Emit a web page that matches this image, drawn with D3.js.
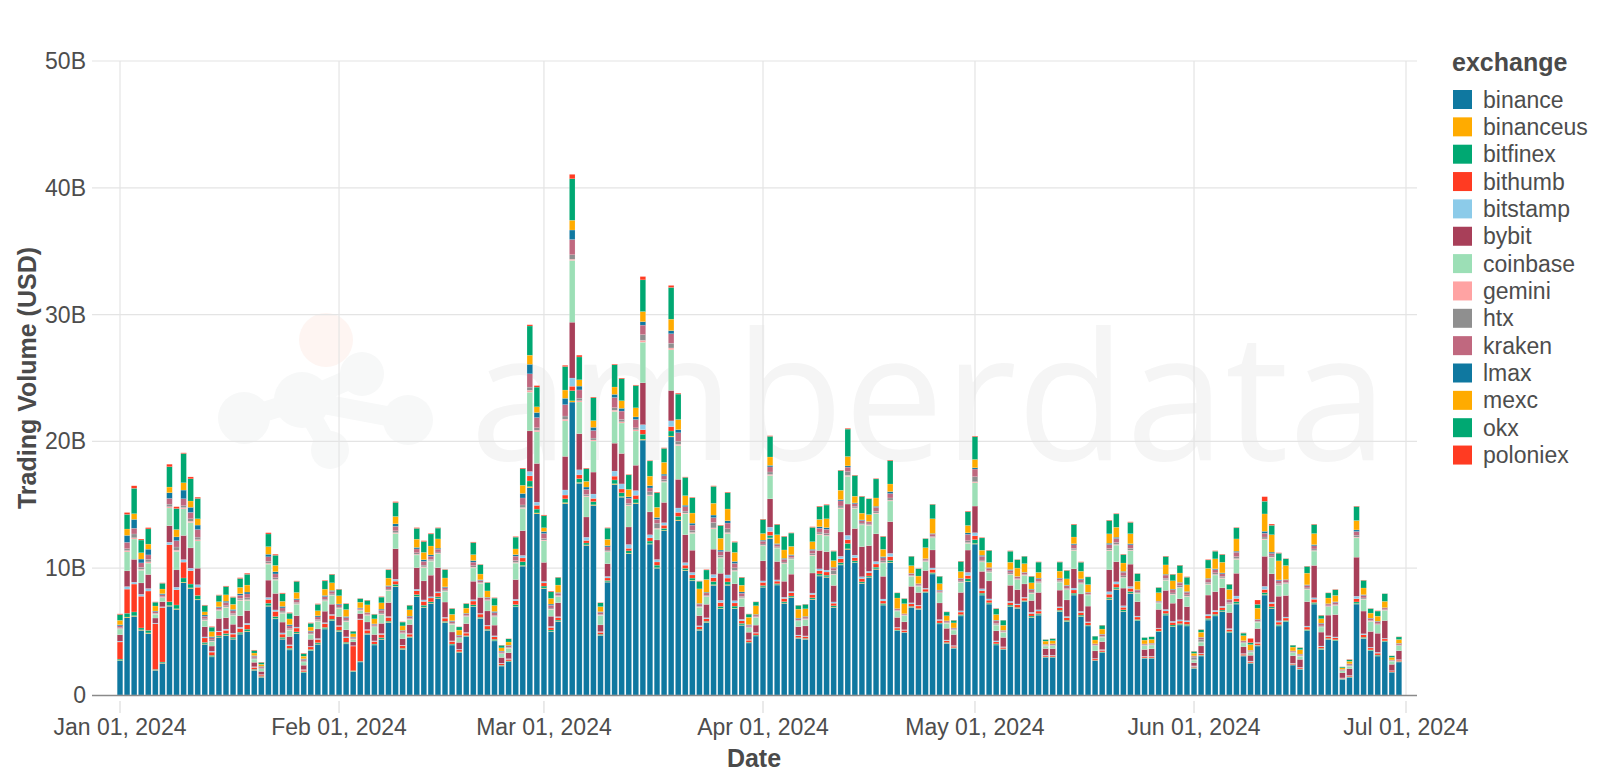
<!DOCTYPE html>
<html>
<head>
<meta charset="utf-8">
<script src="https://cdn.jsdelivr.net/npm/d3@7"></script>
<style>
  html, body { margin: 0; padding: 0; background: #fff; }
  svg { display: block; font-family: "Liberation Sans", Arial, Helvetica, sans-serif; }
</style>
</head>
<body>
<svg id="chart" width="1600" height="781"></svg>
<script>
// ---------- DATA (billions USD, daily Jan 1 – Jun 30, 2024) ----------
const exchanges = ["binance","binanceus","bitfinex","bithumb","bitstamp","bybit","coinbase","gemini","htx","kraken","lmax","mexc","okx","poloniex"];
const exchangeColors = ["#0f78a0","#ffab00","#00a872","#ff3b22","#8ccbe9","#a83f59","#9cdfb6","#ffa3a3","#8f8f8f","#c0687f","#0f78a0","#ffab00","#00a872","#ff3b22"];
const yTicks = [0, 10, 20, 30, 40, 50];
const yTickLabels = ["0", "10B", "20B", "30B", "40B", "50B"];
const startDate = new Date(2024, 0, 1);
const endDate = new Date(2024, 6, 1);

const binance = [2.7,6.1,6.2,5.1,4.85,1.95,2.5,7.0,6.75,8.85,
8.4,7.5,4.0,3.0,4.55,4.7,4.4,4.8,5.0,1.95,
1.4,7.0,6.0,4.4,3.55,4.85,1.75,3.5,4.0,5.2,
5.85,5.0,4.03,1.85,2.6,4.78,3.94,4.39,5.7,8.54,
3.6,4.52,7.76,6.91,7.22,7.62,5.7,3.94,3.34,4.6,
6.96,6.04,5.1,4.26,2.28,2.62,6.95,10.16,16.35,14.3,
8.4,5.0,5.8,15.1,23.1,16.7,11.8,14.95,4.7,8.9,
16.6,15.6,11.15,15.1,20.1,11.9,10.0,12.95,20.35,13.75,
9.8,9.0,5.1,5.7,8.65,6.8,8.65,6.8,5.5,4.1,
4.65,8.5,12.35,8.67,7.23,7.7,4.46,4.39,7.54,9.38,
9.28,6.91,10.25,11.48,10.43,8.8,9.28,9.91,7.09,10.43,
5.07,4.91,6.91,6.75,8.07,9.54,5.6,4.07,3.68,6.23,
8.93,11.9,7.88,7.17,3.94,3.6,6.96,6.83,7.36,6.12,
6.3,2.97,2.97,6.57,5.78,7.88,6.17,5.44,2.7,3.33,
7.54,8.33,6.57,8.01,5.86,2.89,2.89,4.99,6.3,5.39,
5.52,5.44,2.1,3.07,5.91,6.23,6.57,4.91,7.17,3.07,
2.49,3.86,7.88,6.83,5.44,5.78,2.36,2.02,5.07,7.17,
3.6,4.39,4.28,1.23,1.39,7.17,4.46,3.49,3.07,4.2,
1.8,2.6];

const binanceus = [.03,.05,.05,.04,.05,.02,.03,.05,.05,.05,
.05,.05,.03,.03,.03,.03,.03,.03,.04,.02,
.02,.04,.04,.03,.03,.03,.02,.02,.03,.03,
.03,.03,.03,.02,.02,.02,.02,.03,.03,.04,
.02,.02,.03,.03,.03,.03,.03,.02,.02,.02,
.03,.02,.02,.03,.02,.02,.03,.05,.08,.06,
.04,.03,.03,.07,.1,.06,.04,.05,.02,.03,
.06,.05,.04,.05,.07,.04,.04,.04,.07,.05,
.04,.04,.02,.03,.05,.04,.05,.04,.03,.02,
.02,.03,.04,.03,.03,.03,.02,.02,.03,.04,
.04,.03,.04,.05,.03,.03,.03,.04,.03,.04,
.02,.01,.02,.02,.02,.03,.02,.02,.01,.03,
.04,.05,.03,.03,.02,.01,.03,.02,.02,.03,
.03,.01,.01,.03,.03,.03,.03,.02,.01,.02,
.04,.04,.03,.03,.02,.01,.01,.01,.03,.03,
.03,.03,.02,.02,.03,.03,.03,.02,.04,.01,
.01,.02,.04,.03,.03,.02,.01,.01,.02,.03,
.02,.02,.02,.01,.01,.04,.02,.02,.02,.02,
.01,.01];

const bitfinex = [.1,.3,.3,.15,.2,.05,.07,.3,.3,.33,
.3,.3,.12,.1,.1,.12,.12,.12,.15,.06,
.05,.2,.15,.12,.1,.1,.06,.07,.1,.1,
.1,.08,.1,.04,.04,.06,.06,.1,.09,.15,
.06,.06,.13,.14,.1,.1,.08,.06,.05,.06,
.12,.07,.07,.1,.05,.05,.15,.3,.45,.3,
.15,.1,.08,.3,.8,.3,.15,.25,.07,.1,
.3,.3,.18,.3,.4,.2,.2,.15,.4,.3,
.15,.18,.07,.08,.25,.15,.22,.17,.12,.05,
.06,.1,.2,.08,.1,.08,.05,.05,.1,.13,
.13,.1,.15,.42,.12,.1,.08,.13,.1,.15,
.04,.03,.06,.05,.06,.08,.06,.05,.04,.08,
.2,.3,.12,.08,.08,.03,.1,.06,.06,.08,
.09,.03,.03,.08,.08,.12,.1,.05,.03,.05,
.12,.13,.12,.12,.07,.03,.03,.04,.1,.1,
.08,.1,.05,.05,.1,.1,.1,.08,.15,.04,
.04,.05,.15,.1,.08,.07,.03,.03,.07,.1,
.06,.05,.06,.03,.04,.13,.07,.05,.06,.05,
.02,.04];

const bithumb = [1.35,1.9,2.2,2.5,3.1,3.6,4.3,4.5,1.2,1.25,
1.05,.65,.35,.25,.3,.25,.25,.3,.35,.15,
.1,.3,.4,.25,.2,.3,.12,.2,.25,.3,
.3,.3,.35,1.95,3.3,.25,.2,.25,.3,.25,
.2,.2,.3,.3,.3,.3,.25,.2,.15,.2,
.3,.25,.25,.2,.12,.12,.3,.3,.4,.3,
.25,.2,.2,.3,.35,.3,.2,.25,.15,.2,
.3,.3,.2,.3,.35,.25,.25,.25,.35,.3,
.25,.25,.2,.2,.3,.3,.3,.25,.2,.15,
.15,.25,.3,.2,.25,.25,.15,.15,.25,.25,
.25,.2,.3,.3,.25,.25,.25,.25,.2,.3,
.15,.15,.2,.2,.2,.25,.2,.15,.12,.2,
.25,.3,.2,.2,.15,.12,.2,.2,.2,.2,
.2,.08,.08,.2,.2,.25,.2,.2,.1,.12,
.25,.25,.2,.25,.2,.1,.1,.2,.2,.2,
.2,.2,.08,.1,.2,.2,.2,.15,.25,.1,
.1,.15,.25,.25,.2,.2,.08,.08,.2,.25,
.12,.15,.15,.05,.06,.25,.2,.15,.15,.15,
.07,.1];

const bitstamp = [.07,.2,.15,.15,.2,.05,.06,.2,.2,.2,
.2,.2,.08,.08,.06,.1,.08,.1,.12,.05,
.04,.15,.12,.1,.08,.08,.05,.05,.08,.08,
.08,.07,.08,.03,.04,.05,.05,.08,.07,.15,
.05,.05,.12,.12,.1,.09,.07,.05,.04,.05,
.11,.06,.06,.08,.04,.05,.12,.2,.35,.25,
.12,.08,.07,.4,.65,.4,.25,.35,.06,.12,
.4,.4,.3,.37,.4,.25,.2,.2,.45,.35,
.2,.2,.07,.08,.25,.18,.25,.18,.12,.05,
.05,.12,.35,.1,.1,.1,.05,.05,.12,.15,
.15,.1,.2,.34,.2,.15,.12,.2,.15,.25,
.05,.04,.08,.06,.07,.12,.07,.05,.05,.1,
.25,.25,.15,.1,.08,.04,.1,.07,.07,.1,
.1,.04,.04,.08,.1,.15,.1,.06,.04,.06,
.2,.18,.12,.15,.08,.03,.03,.04,.12,.1,
.1,.1,.05,.05,.12,.12,.1,.08,.2,.05,
.04,.06,.25,.12,.1,.08,.03,.04,.08,.12,
.06,.06,.07,.03,.04,.2,.08,.06,.07,.05,
.02,.04];

const bybit = [.5,1.24,1.8,.9,1.1,.4,.4,1.3,1.37,1.9,
1.6,1.3,.8,.4,1.0,.9,.7,.9,1.0,.35,
.25,1.37,1.3,.85,.65,.9,.35,.55,.75,.9,
.8,.7,.55,.3,.42,.6,.5,.8,1.1,2.4,
.5,.7,1.7,1.5,1.7,1.9,1.2,.7,.55,.7,
1.45,1.26,1.13,.84,.45,.47,1.55,1.95,3.2,3.05,
1.5,.8,1.1,2.65,4.4,2.85,1.6,1.73,.53,1.0,
2.2,2.4,1.38,2.0,3.3,1.8,1.54,1.6,2.4,2.26,
2.2,1.75,.8,1.06,2.0,2.13,1.86,1.33,1.0,.58,
.58,1.58,2.23,1.45,1.26,1.37,.66,.79,1.58,1.45,
1.45,1.3,1.92,2.47,2.1,2.37,2.02,2.18,1.79,2.5,
.79,.63,1.3,1.0,1.4,1.42,1.31,.92,.87,1.45,
1.76,2.1,1.37,1.42,.79,.74,1.26,1.13,1.05,.92,
1.37,.53,.53,1.31,1.31,1.52,1.37,1.24,.6,.63,
1.73,1.58,1.39,1.76,1.13,.53,.58,1.47,1.5,1.42,
1.66,1.1,.25,.58,1.52,1.47,1.45,1.26,1.79,.53,
.45,1.1,2.37,2.23,1.94,1.7,.58,.63,1.92,2.55,
1.1,1.63,1.76,.4,.53,3.08,1.79,1.24,1.5,1.4,
.5,.7];

const coinbase = [.45,1.5,1.6,1.0,.9,.3,.3,1.4,1.45,2.1,
2.0,2.15,.5,.35,.6,.8,.7,1.2,.8,.25,
.2,1.26,1.05,.7,.5,.9,.25,.4,.6,.8,
.7,.65,.65,.2,.25,.5,.6,.7,.95,1.2,
.4,.4,1.0,1.05,1.1,1.1,.85,.6,.35,.55,
1.05,1.1,.8,.65,.3,.35,1.3,1.75,3.05,2.5,
1.7,.53,.48,2.8,4.87,2.5,1.6,2.45,.75,.93,
2.5,2.4,1.68,2.7,3.2,1.28,.85,1.6,3.2,2.66,
1.65,1.33,.66,.6,1.6,1.2,1.4,1.0,.66,.35,
.6,1.18,1.84,1.05,1.37,1.18,.45,.5,1.37,1.24,
1.24,.84,1.84,2.18,1.58,1.71,1.6,1.58,1.05,1.63,
.5,.5,.79,.5,.7,.95,.79,.4,.35,.79,
.53,1.84,.74,.68,.45,.4,.84,.79,.66,.55,
.74,.2,.22,.63,.79,1.45,.79,.87,.4,.35,
1.5,1.31,.8,1.05,.66,.3,.3,.5,.79,.66,
.87,.79,.2,.3,.84,1.31,.74,.66,1.1,.3,
.25,.5,1.31,1.26,.87,.92,.25,.25,.97,1.13,
.4,.66,.71,.15,.2,1.52,.92,.79,.66,.8,
.25,.4];

const gemini = [.05,.1,.1,.08,.1,.03,.04,.1,.1,.1,
.1,.1,.05,.04,.04,.05,.05,.05,.06,.03,
.02,.08,.06,.05,.04,.05,.03,.03,.05,.05,
.04,.04,.04,.02,.02,.03,.03,.04,.04,.07,
.03,.03,.06,.06,.05,.05,.04,.03,.02,.03,
.06,.03,.03,.04,.02,.03,.06,.08,.15,.12,
.06,.04,.04,.13,.1,.1,.06,.08,.03,.05,
.1,.1,.06,.1,.15,.06,.07,.06,.15,.1,
.06,.07,.03,.04,.08,.06,.08,.06,.05,.03,
.03,.05,.08,.04,.05,.04,.02,.03,.05,.06,
.06,.05,.06,.08,.05,.05,.04,.06,.05,.06,
.02,.02,.03,.02,.03,.04,.03,.02,.02,.04,
.06,.08,.05,.04,.04,.02,.04,.03,.03,.04,
.04,.02,.02,.04,.04,.05,.04,.03,.02,.03,
.05,.06,.05,.05,.03,.02,.02,.02,.05,.05,
.04,.04,.03,.03,.05,.05,.05,.04,.06,.02,
.02,.03,.06,.05,.04,.04,.02,.02,.04,.05,
.03,.03,.03,.01,.02,.06,.04,.03,.03,.02,
.01,.02];

const htx = [.06,.15,.3,.15,.2,.05,.06,.2,.25,.15,
.2,.2,.08,.1,.06,.1,.1,.12,.15,.07,
.06,.15,.13,.12,.1,.1,.06,.07,.1,.1,
.08,.07,.08,.04,.04,.06,.06,.08,.08,.15,
.06,.06,.12,.13,.1,.09,.07,.06,.05,.06,
.12,.06,.06,.08,.05,.05,.14,.2,.25,.2,
.12,.08,.06,.25,.35,.2,.12,.15,.06,.1,
.2,.18,.12,.15,.45,.25,.4,.15,.37,.25,
.15,.18,.06,.08,.43,.15,.3,.2,.1,.05,
.05,.1,.2,.08,.1,.08,.05,.05,.12,.15,
.15,.3,.15,.3,.1,.1,.07,.15,.12,.18,
.04,.03,.06,.05,.06,.08,.06,.05,.04,.08,
.15,.4,.1,.08,.1,.04,.1,.06,.06,.08,
.09,.04,.04,.08,.08,.12,.1,.05,.04,.05,
.12,.15,.12,.15,.07,.03,.03,.04,.12,.1,
.15,.1,.2,.2,.12,.13,.1,.1,.15,.05,
.04,.06,.15,.1,.1,.08,.03,.04,.08,.12,
.06,.05,.06,.03,.05,.15,.08,.05,.06,.05,
.03,.04];

const kraken = [.15,.5,.45,.35,.35,.12,.15,.45,.5,.55,
.5,.6,.2,.17,.15,.25,.22,.25,.3,.12,
.09,.35,.3,.25,.2,.2,.12,.12,.2,.2,
.2,.18,.2,.1,.1,.12,.11,.22,.2,.35,
.13,.13,.3,.3,.25,.22,.18,.14,.11,.13,
.28,.15,.14,.22,.1,.12,.35,.55,1.05,.8,
.4,.22,.17,.9,1.2,.65,.4,.6,.15,.25,
.8,.66,.4,.66,.75,.3,.3,.3,.75,.66,
.35,.4,.16,.18,.38,.3,.45,.35,.25,.12,
.12,.22,.4,.18,.22,.17,.12,.12,.25,.3,
.32,.18,.4,.35,.23,.2,.16,.3,.25,.35,
.1,.07,.12,.1,.11,.18,.11,.1,.09,.18,
.5,.6,.3,.2,.2,.08,.2,.13,.14,.18,
.2,.06,.08,.16,.2,.28,.2,.12,.08,.13,
.32,.32,.28,.28,.15,.07,.08,.08,.25,.25,
.18,.2,.08,.12,.25,.25,.23,.2,.35,.09,
.07,.12,.3,.2,.22,.18,.07,.09,.2,.25,
.18,.13,.17,.06,.1,.3,.2,.14,.16,.12,
.05,.1];

const lmax = [.08,.55,.7,.3,.45,.05,.08,.45,.3,.68,
.4,.35,.1,.08,.07,.1,.1,.12,.15,.06,
.04,.2,.17,.12,.1,.08,.05,.05,.09,.09,
.07,.06,.08,.03,.04,.04,.04,.08,.06,.2,
.05,.05,.12,.13,.1,.08,.06,.06,.04,.05,
.12,.05,.05,.09,.04,.05,.12,.35,.75,.4,
.15,.09,.06,.5,.75,.3,.18,.25,.05,.1,
.25,.22,.12,.2,.27,.18,.15,.12,.25,.25,
.12,.15,.05,.06,.2,.12,.18,.15,.1,.05,
.05,.08,.12,.06,.07,.06,.04,.05,.08,.12,
.13,.06,.1,.1,.06,.05,.03,.08,.08,.15,
.03,.02,.03,.03,.03,.05,.03,.02,.02,.03,
.12,.1,.08,.05,.05,.02,.06,.03,.03,.05,
.06,.02,.02,.04,.05,.08,.06,.03,.02,.03,
.1,.09,.07,.08,.04,.02,.02,.02,.06,.05,
.05,.06,.03,.03,.06,.06,.06,.04,.08,.02,
.02,.03,.15,.1,.06,.04,.02,.02,.04,.09,
.04,.03,.04,.02,.02,.12,.05,.04,.04,.03,
.01,.03];

const mexc = [.35,.5,.45,.5,.4,.4,.37,.45,.58,.58,
.5,.5,.25,.4,.4,.5,.4,.5,.55,.2,
.15,.6,.5,.4,.45,.5,.2,.3,.4,.5,
.6,.65,.55,.25,.45,.6,.4,.5,.6,.58,
.35,.5,.65,.58,.7,.73,.7,.5,.4,.4,
.47,.45,.5,.47,.25,.25,.45,.65,.72,.45,
.3,.45,.58,.65,.77,.5,.45,.53,.4,.5,
.58,.6,.58,.72,.8,.75,.8,.93,.9,.8,
.75,.8,1.15,1.0,.93,.93,.93,.72,.53,.58,
.68,.53,.66,.7,.66,.66,.7,.6,.6,.58,
.7,.53,.74,.74,.53,.53,.55,.66,.58,.6,
.84,.79,.6,.6,.87,1.16,.5,.4,.4,.53,
.58,.66,.4,.4,.45,.4,.58,.66,.68,.5,
.45,.25,.25,.55,.5,.53,.6,.6,.3,.4,
.74,.79,.66,.79,.66,.3,.3,.66,.74,.66,
.74,.53,.2,.4,.79,.79,.84,.79,.97,.4,
.45,.87,1.37,1.37,1.5,1.1,.3,.35,.92,.87,
.35,.45,.5,.12,.2,.74,.53,.4,.4,.5,
.2,.3];

const okx = [.45,1.15,2.0,1.0,1.2,.3,.45,1.6,1.65,2.3,
1.75,1.6,.5,.35,.5,.65,.55,.7,.85,.2,
.15,1.0,.8,.6,.45,.87,.2,.3,.5,.65,
.65,.5,.45,.2,.28,.35,.35,.45,.65,1.1,
.3,.35,.85,.85,.95,.85,.65,.45,.25,.35,
.95,.73,.65,.58,.2,.25,.93,1.3,2.3,1.55,
.95,.53,.6,1.85,3.27,1.8,1.0,1.8,.3,.88,
1.75,1.73,1.15,1.75,2.5,1.2,1.15,1.1,2.5,2.0,
1.44,1.2,.6,.75,1.33,1.0,1.28,.8,.6,.25,
.3,1.1,1.63,.8,1.05,1.05,.3,.35,1.13,1.0,
1.08,.74,1.55,2.16,1.63,1.31,1.24,1.5,1.0,1.84,
.4,.4,.74,.58,.71,1.13,.58,.3,.2,.79,
1.08,1.79,.97,.95,.45,.4,.87,.66,.58,.5,
.81,.12,.15,.71,.66,.97,.71,.6,.3,.3,
1.05,1.05,.66,.89,.6,.2,.2,.4,.66,.5,
.6,.6,.15,.2,.66,.6,.6,.4,.87,.2,
.15,.3,1.0,.74,.6,.53,.15,.15,.53,.71,
.25,.4,.45,.08,.12,1.1,.6,.35,.4,.6,
.12,.2];

const poloniex = [.06,.15,.2,.08,.1,.03,.04,.2,.15,.06,
.15,.1,.04,.05,.04,.05,.05,.06,.08,.04,
.03,.1,.08,.06,.05,.04,.04,.04,.05,.05,
.04,.03,.04,.02,.02,.03,.03,.04,.04,.07,
.03,.03,.06,.07,.05,.04,.03,.03,.02,.03,
.05,.03,.03,.04,.02,.02,.05,.06,.1,.12,
.06,.05,.03,.1,.35,.14,.05,.06,.03,.04,
.06,.06,.04,.05,.26,.04,.05,.05,.16,.07,
.04,.05,.03,.04,.05,.04,.05,.05,.04,.02,
.02,.04,.05,.04,.04,.03,.02,.02,.05,.05,
.05,.04,.04,.06,.04,.04,.03,.04,.04,.05,
.02,.02,.02,.02,.02,.03,.02,.02,.02,.03,
.05,.05,.04,.03,.03,.01,.04,.02,.02,.03,
.03,.01,.02,.03,.03,.05,.04,.02,.01,.02,
.04,.04,.04,.05,.02,.01,.01,.02,.04,.03,
.03,.04,.02,.02,.04,.04,.04,.02,.04,.03,
.33,.34,.36,.1,.04,.03,.01,.02,.03,.04,
.03,.02,.03,.01,.03,.04,.03,.02,.03,.01,
.01,.02];

// ---------- BUILD TABLE ----------
const seriesList = [binance, binanceus, bitfinex, bithumb, bitstamp, bybit, coinbase, gemini, htx, kraken, lmax, mexc, okx, poloniex];
const dates = d3.timeDay.range(startDate, endDate);
const table = dates.map((date, i) => {
  const row = { date };
  exchanges.forEach((ex, k) => { row[ex] = seriesList[k][i] || 0; });
  return row;
});

// ---------- LAYOUT ----------
const svg = d3.select("#chart");
const plotLeft = 92, plotRight = 1417, plotTop = 61, plotBottom = 695;
const labelColor = "#4d4d4d";
const titleColor = "#4a4a4a";

const x = d3.scaleTime().domain([startDate, endDate]).range([120, 1406]);
const y = d3.scaleLinear().domain([0, 50]).range([plotBottom, plotTop]);
const color = d3.scaleOrdinal().domain(exchanges).range(exchangeColors);

svg.append("rect").attr("width", 1600).attr("height", 781).attr("fill", "#fff");

// watermark (very faint)
const wm = svg.append("g").attr("class", "watermark");
const wmGray = "#f7f8f8";
[[244, 418, 26], [302, 400, 28], [362, 374, 22], [408, 420, 25], [330, 450, 19]].forEach(c => {
  wm.append("circle").attr("cx", c[0]).attr("cy", c[1]).attr("r", c[2]).attr("fill", wmGray);
});
wm.append("path").attr("d", "M244,418 L302,400 L362,374 M302,400 L408,420 M302,400 L330,450")
  .attr("stroke", wmGray).attr("stroke-width", 20).attr("fill", "none");
wm.append("circle").attr("cx", 326).attr("cy", 340).attr("r", 27).attr("fill", "#fef5f2");
wm.append("text").attr("x", 470).attr("y", 460)
  .attr("font-family", "'Open Sans', 'DejaVu Sans', sans-serif")
  .attr("font-size", 178).attr("textLength", 918).attr("lengthAdjust", "spacingAndGlyphs")
  .attr("fill", "#f5f5f5").text("amberdata");

// gridlines horizontal
svg.append("g").selectAll("line").data(yTicks.filter(t => t !== 0)).join("line")
  .attr("x1", plotLeft).attr("x2", plotRight)
  .attr("y1", d => y(d)).attr("y2", d => y(d))
  .attr("stroke", "#e4e4e4").attr("stroke-width", 1.2);

// gridlines vertical (month starts)
const monthTicks = d3.timeMonth.range(startDate, d3.timeDay.offset(endDate, 1));
svg.append("g").selectAll("line").data(monthTicks).join("line")
  .attr("x1", d => x(d)).attr("x2", d => x(d))
  .attr("y1", plotTop).attr("y2", plotBottom)
  .attr("stroke", "#e4e4e4").attr("stroke-width", 1.2);

// x tick marks below axis
svg.append("g").selectAll("line").data(monthTicks).join("line")
  .attr("x1", d => x(d)).attr("x2", d => x(d))
  .attr("y1", plotBottom + 6).attr("y2", plotBottom + 18)
  .attr("stroke", "#dcdcdc").attr("stroke-width", 1.2);

// stacked bars
const stack = d3.stack().keys(exchanges);
const layers = stack(table);
const barW = 5.6;
svg.append("g").selectAll("g").data(layers).join("g")
  .attr("fill", d => color(d.key))
  .selectAll("rect").data(d => d).join("rect")
  .attr("x", d => x(d.data.date) - barW / 2)
  .attr("width", barW)
  .attr("y", d => y(d[1]))
  .attr("height", d => Math.max(0, y(d[0]) - y(d[1])))
  .attr("stroke", "rgba(255,255,255,0.35)").attr("stroke-width", 0.4);

// x domain line (zero)
svg.append("line").attr("x1", plotLeft).attr("x2", plotRight)
  .attr("y1", plotBottom + 0.5).attr("y2", plotBottom + 0.5)
  .attr("stroke", "#8a8a8a").attr("stroke-width", 1.5);

// y labels
svg.append("g").selectAll("text").data(yTicks).join("text")
  .attr("x", 86).attr("y", d => y(d))
  .attr("dy", "0.35em").attr("text-anchor", "end")
  .attr("font-size", 23).attr("fill", labelColor)
  .text((d, i) => yTickLabels[i]);

// x labels
const fmt = d3.timeFormat("%b %d, %Y");
svg.append("g").selectAll("text").data(monthTicks).join("text")
  .attr("x", d => x(d)).attr("y", 735)
  .attr("text-anchor", "middle")
  .attr("font-size", 23).attr("fill", labelColor)
  .text(d => fmt(d));

// axis titles
svg.append("text").attr("x", 754).attr("y", 767)
  .attr("text-anchor", "middle").attr("font-size", 25).attr("font-weight", "bold")
  .attr("fill", titleColor).text("Date");
svg.append("text").attr("transform", "translate(36,378) rotate(-90)")
  .attr("text-anchor", "middle").attr("font-size", 25).attr("font-weight", "bold")
  .attr("fill", titleColor).text("Trading Volume (USD)");

// legend
const lg = svg.append("g");
lg.append("text").attr("x", 1452).attr("y", 71)
  .attr("font-size", 25).attr("font-weight", "bold").attr("fill", titleColor).text("exchange");
const rowH = 27.35;
const item = lg.selectAll("g.item").data(exchanges).join("g").attr("class", "item")
  .attr("transform", (d, i) => `translate(1453, ${99.5 + i * rowH})`);
item.append("rect").attr("x", 0).attr("y", -9.5).attr("width", 19).attr("height", 19)
  .attr("fill", d => color(d));
item.append("text").attr("x", 30).attr("y", 0).attr("dy", "0.35em")
  .attr("font-size", 23).attr("fill", labelColor).text(d => d);
</script>
</body>
</html>
